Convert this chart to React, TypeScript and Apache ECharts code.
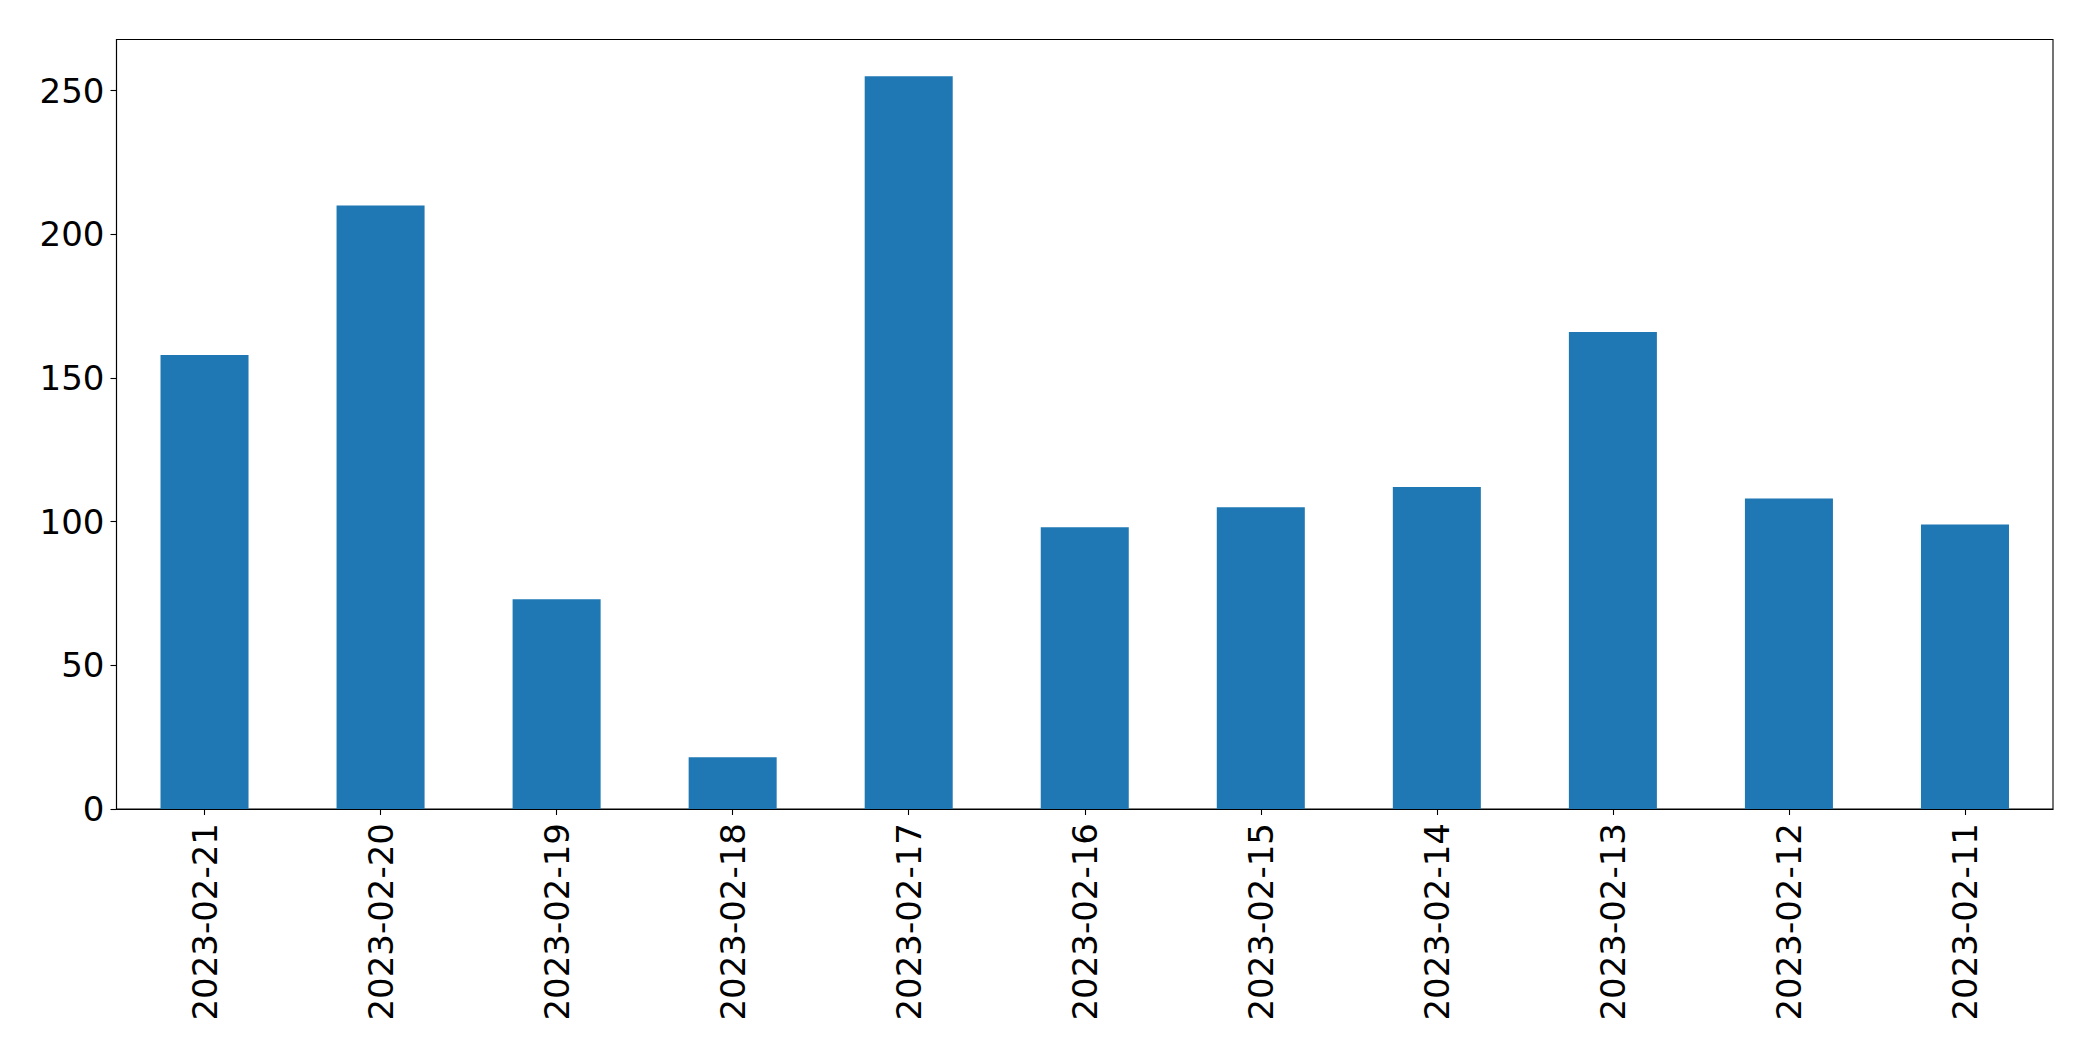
import React, { useEffect, useRef } from "react";
import * as echarts from "echarts";

const categories = [
  "2023-02-21", "2023-02-20", "2023-02-19", "2023-02-18", "2023-02-17", "2023-02-16",
  "2023-02-15", "2023-02-14", "2023-02-13", "2023-02-12", "2023-02-11",
];
const values = [158, 210, 73, 18, 255, 98, 105, 112, 166, 108, 99];
const yTicks = [0, 50, 100, 150, 200, 250];

export default function App() {
  const ref = useRef<HTMLDivElement>(null);
  useEffect(() => {
    document.body.style.margin = "0";
    const chart = echarts.init(ref.current!, null, { renderer: "svg" });
    const font = "DejaVu Sans";
    chart.setOption({
      animation: false,
      backgroundColor: "#ffffff",
      grid: {
        left: 116.5, top: 39.5, right: 40, bottom: 252,
        show: true, borderColor: "#000", borderWidth: 1.1, backgroundColor: "transparent",
      },
      xAxis: {
        type: "category",
        data: categories,
        boundaryGap: true,
        axisLine: { show: true, lineStyle: { color: "#000", width: 1.1 } },
        axisTick: { show: true, alignWithLabel: true, length: 6, lineStyle: { color: "#000", width: 1.1 } },
        axisLabel: { rotate: 90, margin: 14, fontSize: 34, color: "#000", fontFamily: font, interval: 0 },
        splitLine: { show: false },
      },
      yAxis: {
        type: "value",
        min: 0,
        max: 267.75,
        interval: 50,
        axisLine: { show: true, lineStyle: { color: "#000", width: 1.1 } },
        axisTick: { show: true, length: 6, lineStyle: { color: "#000", width: 1.1 } },
        axisLabel: {
          margin: 12, fontSize: 34, color: "#000", fontFamily: font,
          showMaxLabel: false,
          formatter: (v: number) => (yTicks.includes(v) ? String(v) : ""),
        },
        splitLine: { show: false },
      },
      series: [
        {
          type: "bar",
          data: values,
          barWidth: "50%",
          itemStyle: { color: "#1f77b4" },
        },
      ],
    });
    return () => chart.dispose();
  }, []);
  return <div ref={ref} style={{ position: "fixed", left: 0, top: 0, width: 2093, height: 1061 }} />;
}
